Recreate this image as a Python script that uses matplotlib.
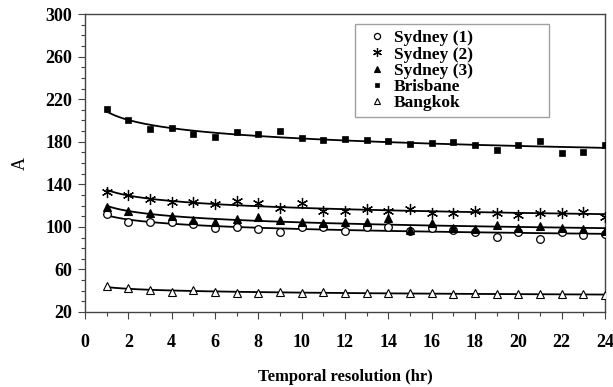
import numpy as np
import matplotlib
matplotlib.use('Agg')
import matplotlib.pyplot as plt
from matplotlib.ticker import MultipleLocator

hours = list(range(1, 25))

sydney1 = [111.7, 104.8, 104.2, 104.2, 102.3, 99.2, 99.5, 97.6, 95.4, 100.1, 99.5, 96.4,
           99.5, 100.1, 96.4, 98.6, 97.0, 95.5, 90.1, 95.5, 88.2, 95.5, 92.3, 92.9]
sydney2 = [132.4, 129.6, 126.1, 123.3, 123.3, 121.4, 124.5, 122.0, 118.0, 122.7, 115.2, 114.9,
           116.4, 114.9, 116.4, 112.7, 112.7, 114.9, 112.7, 111.4, 112.7, 112.7, 114.2, 109.5]
sydney3 = [118.3, 114.9, 112.7, 110.5, 106.4, 104.8, 107.3, 109.2, 106.1, 104.2, 103.9, 105.0,
           104.8, 108.0, 97.0, 103.9, 98.6, 97.7, 101.7, 98.6, 101.0, 98.6, 97.7, 96.4]
brisbane = [210.4, 200.4, 191.9, 193.0, 187.5, 184.0, 189.4, 187.2, 189.7, 183.2, 181.3, 182.8,
            181.9, 180.6, 177.8, 178.8, 180.0, 177.2, 172.2, 176.9, 180.3, 169.4, 170.0, 177.2]
bangkok = [44.4, 42.2, 40.6, 39.0, 40.6, 39.0, 38.1, 37.5, 38.4, 37.5, 38.4, 37.5,
           38.1, 38.1, 38.1, 37.5, 36.9, 37.5, 37.0, 37.0, 36.5, 36.5, 36.5, 36.3]

labels = ['Sydney (1)', 'Sydney (2)', 'Sydney (3)', 'Brisbane', 'Bangkok']
yticks = [20, 60, 100, 140, 180, 220, 260, 300]

plt.rcParams['font.family'] = ['Liberation Serif', 'DejaVu Serif']
plt.rcParams['font.weight'] = 'bold'

fig = plt.figure(figsize=(6.13, 3.87), dpi=100)
ax = fig.add_axes([0.1387, 0.1938, 0.848, 0.770])

series = [sydney1, sydney2, sydney3, brisbane, bangkok]
styles = [
    dict(marker='o', mfc='white', mec='black', ms=5.5, mew=0.9),
    dict(marker=(6, 2, 0), mfc='none', mec='black', ms=8, mew=0.9),
    dict(marker='^', mfc='black', mec='black', ms=5.5, mew=0.8),
    dict(marker='s', mfc='black', mec='black', ms=4, mew=0.5),
    dict(marker='^', mfc='white', mec='black', ms=5.5, mew=0.8),
]

x = np.array(hours, dtype=float)
xf = np.linspace(1, 24, 200)
for y, st, lab in zip(series, styles, labels):
    y = np.array(y)
    # power trend line fitted to the points
    b, a = np.polyfit(np.log(x), np.log(y), 1)
    ax.plot(xf, np.exp(a) * xf ** b, color='black', lw=1.3, zorder=2)
    ax.plot(x, y, ls='none', label=lab, zorder=3, **st)

ax.set_xlim(0, 24)
ax.set_ylim(20, 300)
ax.xaxis.set_major_locator(MultipleLocator(2))
ax.xaxis.set_minor_locator(MultipleLocator(1))
ax.set_yticks(yticks)
ax.yaxis.set_minor_locator(MultipleLocator(10))
ax.tick_params(which='major', direction='out', length=5, width=0.8, labelsize=13, color='#444444')
ax.tick_params(which='minor', direction='out', length=3, width=0.8, color='#444444')
ax.tick_params(axis='x', pad=11)
ax.tick_params(axis='y', pad=4)
for lbl in ax.get_xticklabels() + ax.get_yticklabels():
    lbl.set_fontweight('bold')
for s in ax.spines.values():
    s.set_color('#444444')
    s.set_linewidth(1.0)

ax.set_xlabel('Temporal resolution (hr)', fontsize=12, fontweight='bold', labelpad=13)
ax.set_ylabel('A', fontsize=13, labelpad=12)

leg = ax.legend(loc='upper left', bbox_to_anchor=(0.519, 0.658, 0.373, 0.308), mode='expand',
                frameon=True, fancybox=False, edgecolor='#888888',
                handlelength=1.84, handletextpad=0.05, labelspacing=0.0,
                borderpad=0.35, borderaxespad=0.0, markerscale=0.8,
                prop={'weight': 'bold', 'size': 12.5})
leg.get_frame().set_linewidth(1.0)

fig.savefig('out.png', dpi=100)
